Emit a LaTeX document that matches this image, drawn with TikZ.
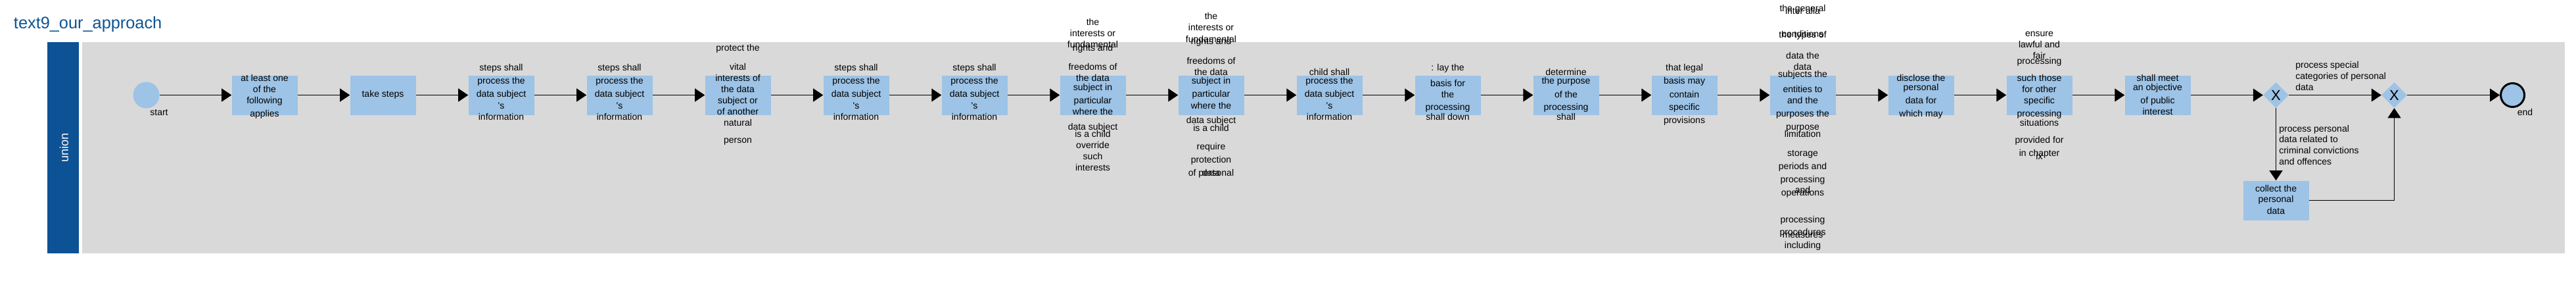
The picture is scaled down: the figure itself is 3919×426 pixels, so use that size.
\documentclass[tikz,border=0pt]{standalone}
\usepackage{fontspec}
\setmainfont{Liberation Sans}
\usetikzlibrary{arrows.meta,shapes.geometric}
\definecolor{lanebar}{RGB}{13,82,148}
\definecolor{titleblue}{RGB}{13,84,148}
\definecolor{poolgray}{RGB}{217,217,217}
\definecolor{taskfill}{RGB}{157,195,230}
\tikzset{
  task/.style={fill=taskfill, draw=none, minimum width=75pt, minimum height=45pt, inner sep=0pt},
  txt/.style={font=\fontsize{10.5pt}{12pt}\selectfont, text height=7.7pt, text depth=2.2pt, inner sep=0pt, anchor=center},
  ltxt/.style={txt, anchor=west},
  flow/.style={line width=0.75pt, -{Triangle[length=11.25pt,width=15pt]}},
  gate/.style={diamond, fill=taskfill, draw=none, minimum width=29.25pt, minimum height=29.25pt, inner sep=0pt, font=\fontsize{16.5pt}{18pt}\selectfont},
}
\newcommand{\boxlines}[3]{%
  \foreach \yy/\lbl [count=\i] in {#3} {\node[txt] (#1-t\i) at (#2,\yy) {\lbl};}%
}
\newcommand{\leftlines}[3]{%
  \foreach \yy/\lbl [count=\i] in {#3} {\node[ltxt] (#1-t\i) at (#2,\yy) {\lbl};}%
}
\begin{document}
\begin{tikzpicture}[x=0.75pt,y=-0.75pt]
\useasboundingbox (0,0) rectangle (3919,426);
% title
\node[anchor=base west, font=\fontsize{19pt}{22pt}\selectfont, text=titleblue, inner sep=0pt] (title) at (20.7,43.3) {text9\_our\_approach};
% lane
\node[fill=lanebar, minimum width=36pt, minimum height=240.75pt, inner sep=0pt, anchor=north west] (lane) at (72,64) {};
\node[fill=poolgray, minimum width=2832.75pt, minimum height=240.75pt, inner sep=0pt, anchor=north west] (pool) at (125,64) {};
\node[rotate=90, text=white, font=\fontsize{13.5pt}{16pt}\selectfont, inner sep=0pt] (lanelabel) at (97.5,224) {union};
% events
\node[circle, fill=taskfill, minimum size=30pt, inner sep=0pt] (start) at (222.5,144.5) {};
\node[txt] (startlbl) at (242,172.3) {start};
\node[circle, fill=taskfill, draw=black, line width=2.25pt, minimum size=27pt, inner sep=0pt] (end) at (3822.5,144.5) {};
\node[txt] (endlbl) at (3841.5,172.3) {end};
% tasks
\foreach \k in {1,...,17} \node[task] (b\k) at ({402.5+180*(\k-1)},144.5) {};
\node[task] (collect) at (3462.5,304.5) {};
% gateways
\node[gate] (g1) at (3462.5,144.5) {X};
\node[gate] (g2) at (3642.5,144.5) {X};
% connectors
\draw[flow] (start) -- (b1);
\foreach \k [count=\n from 2] in {1,...,16} \draw[flow] (b\k) -- (b\n);
\draw[flow] (b17) -- (g1);
\draw[flow] (g1) -- (g2);
\draw[flow] (g1.south) -- (collect.north);
\draw[flow] (collect.east) -| (g2.south);
\draw[flow] (g2) -- (end);
% task texts
\boxlines{b1}{402.5}{120/at least one, 137/of the, 154.3/following, 174.3/applies}
\boxlines{b2}{582.5}{144.3/take steps}
\boxlines{b3}{762.5}{104.3/steps shall, 124.3/process the, 144.3/data subject, 162.3/\textquotesingle s, 179.3/information}
\boxlines{b4}{942.5}{104.3/steps shall, 124.3/process the, 144.3/data subject, 162.3/\textquotesingle s, 179.3/information}
\boxlines{b5}{1122.5}{74/protect the, 103.3/vital, 120.3/interests of, 137/the data, 154.3/subject or, 171/of another, 188.3/natural, 214.3/person}
\boxlines{b6}{1302.5}{104.3/steps shall, 124.3/process the, 144.3/data subject, 162.3/\textquotesingle s, 179.3/information}
\boxlines{b7}{1482.5}{104.3/steps shall, 124.3/process the, 144.3/data subject, 162.3/\textquotesingle s, 179.3/information}
\boxlines{b8}{1662.5}{35/the, 52.3/interests or, 69.3/fundamental, 74/rights and, 103.3/freedoms of, 120/the data, 134.3/subject in, 154.3/particular, 171/where the, 194/data subject, 205.3/is a child, 222/override, 239.3/such, 256.3/interests}
\boxlines{b9}{1842.5}{26/the, 43.3/interests or, 60.7/fundamental, 64/rights and, 94.3/freedoms of, 111/the data, 124.3/subject in, 144.3/particular, 162.3/where the, 184.3/data subject, 196.3/is a child, 224.3/require, 244.3/protection, 264.3/of personal, 264.3/data}
\boxlines{b10}{2022.5}{111/child shall, 124.3/process the, 144.3/data subject, 162.3/\textquotesingle s, 179.3/information}
\boxlines{b11}{2202.5}{104.3/: lay the, 128.3/basis for, 145/the, 164.3/processing, 179.3/shall down}
\boxlines{b12}{2382.5}{111/determine, 124.3/the purpose, 145/of the, 164.3/processing, 179.3/shall}
\boxlines{b13}{2562.5}{104.3/that legal, 124.3/basis may, 145/contain, 164.3/specific, 184.3/provisions}
\boxlines{b14}{2742.5}{14.3/the general, 18.3/inter alia, 53.3/conditions, 54.3/the types of, 86.3/data the, 103.3/data, 114.3/subjects the, 137/entities to, 154.3/and the, 174.3/purposes the, 194.3/purpose, 205.3/limitation, 234.3/storage, 254.3/periods and, 274.3/processing, 294.3/operations, 290/and, 334.7/processing, 354.3/procedures, 358.3/measures, 374.3/including}
\boxlines{b15}{2922.5}{120/disclose the, 134.3/personal, 154.3/data for, 174.3/which may}
\boxlines{b16}{3102.5}{52.3/ensure, 69.3/lawful and, 86/fair, 94.3/processing, 120.3/such those, 137/for other, 154.3/specific, 174.3/processing, 188.3/situations, 214.3/provided for, 234.3/in chapter, 239.3/ix}
\boxlines{b17}{3282.5}{120/shall meet, 134.3/an objective, 154.3/of public, 171/interest}
\boxlines{collect}{3462.5}{288/collect the, 304.3/personal, 322.3/data}
% flow labels
\leftlines{lblspecial}{3492}{100/process special, 116.7/categories of personal, 134/data}
\leftlines{lblcrim}{3467}{196.7/process personal, 213.3/data related to, 230/criminal convictions, 247/and offences}
\end{tikzpicture}
\end{document}
